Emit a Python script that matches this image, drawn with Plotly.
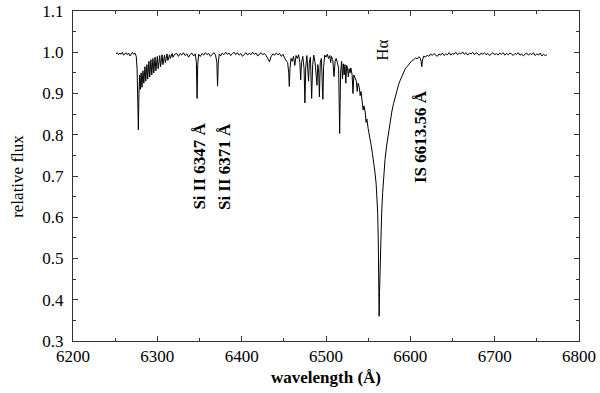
import plotly.graph_objects as go

# blue continuum + O2 telluric band
wl_blue = [6251, 6252.5, 6254, 6255.5, 6257, 6258.5, 6260, 6261.5, 6263, 6264.5, 6266, 6267.5,
           6269, 6270.5, 6272, 6273.5, 6275, 6276, 6276.8, 6277.5, 6278.2, 6279, 6279.8, 6280.8,
           6281.8, 6283, 6284, 6285.3, 6286.3, 6287.6, 6288.6, 6290, 6291, 6292.4, 6293.4, 6294.8,
           6295.8, 6297.3, 6298.3, 6300, 6301, 6302.8, 6303.8, 6305.6, 6306.6, 6308.5, 6309.5,
           6311.5, 6312.5, 6314.5, 6315.5, 6317.5, 6318.5, 6320.5, 6323]
flux_blue = [0.996, 0.999, 0.994, 0.998, 0.995, 1.000, 0.993, 0.997, 0.999, 0.994, 0.998, 0.991,
             0.997, 1.000, 0.995, 0.998, 0.990, 0.960, 0.880, 0.812, 0.900, 0.945, 0.910, 0.950,
             0.915, 0.955, 0.925, 0.965, 0.930, 0.970, 0.935, 0.978, 0.940, 0.982, 0.945, 0.985,
             0.950, 0.988, 0.955, 0.990, 0.960, 0.992, 0.965, 0.994, 0.970, 0.993, 0.975,
             0.996, 0.980, 0.994, 0.985, 0.997, 0.988, 0.995, 0.997]

# continuum with the two Si II lines
wl_si = [6325, 6327, 6329, 6331, 6333, 6335, 6337, 6339, 6341, 6343, 6345, 6346.3, 6347.1, 6347.9,
         6349, 6351, 6353, 6355, 6357, 6359, 6361, 6363, 6365, 6367, 6369, 6370.6, 6371.4, 6372.2,
         6373.5, 6375, 6377, 6379, 6381, 6383, 6385, 6387, 6389, 6391, 6393, 6395, 6397, 6399,
         6401, 6403, 6405, 6407, 6409, 6411, 6413, 6415, 6417, 6419, 6421, 6423, 6425, 6427,
         6429, 6431, 6433, 6435, 6437, 6439, 6441, 6443, 6445, 6447, 6449, 6451, 6453]
flux_si = [0.990, 0.997, 0.993, 0.999, 0.992, 0.996, 0.988, 0.995, 0.998, 0.991, 0.996, 0.975, 0.888, 0.970,
           0.995, 0.990, 0.997, 0.993, 0.999, 0.994, 0.997, 0.990, 0.996, 0.999, 0.993, 0.975, 0.918, 0.972,
           0.996, 0.991, 0.998, 0.994, 1.000, 0.995, 0.998, 0.992, 0.997, 1.000, 0.994, 0.999, 0.993, 0.997,
           0.990, 0.996, 0.999, 0.993, 0.998, 0.994, 1.000, 0.995, 0.998, 0.991, 0.996, 0.999, 0.994, 0.997,
           0.992, 0.985, 0.977, 0.990, 0.996, 0.993, 0.998, 0.994, 0.997, 0.990, 0.995, 0.985, 0.978]

# H2O telluric forest on the blue wing of H-alpha
wl_h2o = [6454.5, 6455.8, 6456.5, 6457.3, 6458.5, 6460, 6461.5, 6463, 6464.5, 6466, 6467.5, 6469,
          6470, 6471, 6472.5, 6474, 6475, 6476, 6477.3, 6478.5, 6479.3, 6480.2, 6481.5, 6483,
          6484.2, 6485.5, 6487, 6488.5, 6489.3, 6490.3, 6491.4, 6492.2, 6493.2, 6494.5, 6495.5,
          6496.3, 6497.2, 6498.5, 6500, 6501.5, 6503, 6504.5, 6505.5, 6506.5, 6508, 6509.5,
          6510.8, 6512, 6513.5, 6515, 6516.2, 6517.3, 6518.5, 6519.5, 6520.5, 6521.5, 6522.5,
          6523.5, 6524.5, 6525.5, 6526.5, 6527.5, 6528.5, 6529.5, 6531, 6532, 6533, 6534.5,
          6536, 6537, 6538, 6539.5, 6540.5, 6541.5, 6543, 6544, 6545, 6546.5, 6547.5, 6548.5,
          6550, 6551, 6552]
flux_h2o = [0.975, 0.950, 0.917, 0.960, 0.985, 0.978, 0.990, 0.968, 0.992, 0.985, 0.994, 0.975,
            0.933, 0.975, 0.990, 0.960, 0.877, 0.965, 0.992, 0.955, 0.930, 0.975, 0.988, 0.888,
            0.970, 0.993, 0.975, 0.940, 0.920, 0.970, 0.950, 0.892, 0.975, 0.985, 0.940,
            0.886, 0.965, 0.993, 0.988, 0.995, 0.985, 0.992, 0.975, 0.990, 0.982, 0.941,
            0.978, 0.985, 0.975, 0.960, 0.803, 0.950, 0.978, 0.935, 0.972, 0.945, 0.970,
            0.925, 0.968, 0.962, 0.940, 0.960, 0.950, 0.962, 0.945, 0.900, 0.945, 0.938,
            0.930, 0.905, 0.925, 0.915, 0.895, 0.905, 0.885, 0.860, 0.870, 0.855, 0.830, 0.838,
            0.815, 0.800, 0.795]

# H-alpha core and red wing (incl. interstellar line)
wl_ha = [6553.5, 6555, 6556.5, 6558, 6559.5, 6560.5, 6561.3, 6562, 6562.6, 6563.0, 6563.5, 6564.2,
         6565, 6566, 6567.2, 6568.5, 6570, 6572, 6574, 6576, 6578, 6580, 6582, 6584, 6586, 6588,
         6590, 6592, 6594, 6596, 6598, 6600, 6602, 6604, 6606, 6608, 6610, 6611.5, 6612.8, 6613.6,
         6614.4, 6616, 6618, 6620]
flux_ha = [0.775, 0.755, 0.735, 0.710, 0.680, 0.650, 0.610, 0.540, 0.450, 0.360, 0.420, 0.500,
           0.560, 0.610, 0.660, 0.700, 0.740, 0.775, 0.805, 0.830, 0.855, 0.875, 0.893, 0.908, 0.921, 0.932,
           0.943, 0.951, 0.960, 0.965, 0.971, 0.975, 0.980, 0.982, 0.986, 0.984, 0.989, 0.987, 0.978, 0.965,
           0.981, 0.991, 0.988, 0.993]

# red continuum
wl_red = [6622, 6624, 6626, 6628, 6630, 6632, 6634, 6636, 6638, 6640, 6642, 6644, 6646, 6648, 6650,
          6652, 6654, 6656, 6658, 6660, 6662, 6664, 6666, 6668, 6670, 6672, 6674, 6676, 6678, 6680,
          6682, 6684, 6686, 6688, 6690, 6692, 6694, 6696, 6698, 6700, 6702, 6704, 6706, 6708, 6710,
          6712, 6714, 6716, 6718, 6720, 6722, 6724, 6726, 6728, 6730, 6732, 6734, 6736, 6738, 6740,
          6742, 6744, 6746, 6748, 6750, 6752, 6754, 6756, 6758, 6760, 6762]
flux_red = [0.990, 0.996, 0.992, 0.997, 0.994, 0.990, 0.996, 0.993, 0.998, 0.992, 0.996, 0.994, 0.999, 0.993, 0.997,
            0.995, 1.000, 0.994, 0.998, 0.996, 1.001, 0.995, 0.999, 0.993, 0.998, 0.996, 1.000, 0.994, 0.999, 0.997,
            0.993, 0.998, 0.995, 0.999, 0.994, 0.997, 0.992, 0.996, 0.999, 0.994, 0.997, 0.993, 0.998, 0.995, 0.999,
            0.993, 0.997, 0.994, 0.998, 0.996, 0.992, 0.997, 0.995, 0.999, 0.993, 0.996, 0.991, 0.995, 0.998, 0.993,
            0.997, 0.994, 0.999, 0.992, 0.996, 0.993, 0.998, 0.991, 0.995, 0.992, 0.994]

labels = ["Si II 6347 Å", "Si II 6371 Å", "Hα", "IS 6613.56 Å"]
label_x = [6350, 6379, 6567, 6613]
label_y = [0.724, 0.724, 1.005, 0.795]

wavelength = wl_blue + wl_si + wl_h2o + wl_ha + wl_red
flux = flux_blue + flux_si + flux_h2o + flux_ha + flux_red

FONT = "Liberation Serif"

fig = go.Figure()
fig.add_trace(go.Scatter(x=wavelength, y=flux, mode="lines",
                         line=dict(color="black", width=1), showlegend=False))

for txt, lx, ly in zip(labels, label_x, label_y):
    fig.add_annotation(x=lx, y=ly, text=txt if txt == "Hα" else f"<b>{txt}</b>",
                       textangle=-90, showarrow=False,
                       font=dict(family=FONT, size=17, color="black"))

# axis titles placed as paper annotations for exact positioning
fig.add_annotation(x=0.5, y=-0.112, xref="paper", yref="paper", text="<b>wavelength (Å)</b>",
                   showarrow=False, xanchor="center", yanchor="middle",
                   font=dict(family=FONT, size=17, color="black"))
fig.add_annotation(x=-0.111, y=0.5, xref="paper", yref="paper", text="relative flux",
                   textangle=-90, showarrow=False, xanchor="center", yanchor="middle",
                   font=dict(family=FONT, size=17, color="black"))

axis_common = dict(showline=True, linecolor="#333", linewidth=1, mirror="ticks",
                   ticks="inside", ticklen=5, tickcolor="#333", showgrid=False, zeroline=False,
                   automargin=False, tickfont=dict(family=FONT, size=17, color="black"))

fig.update_xaxes(range=[6200, 6800], dtick=100,
                 minor=dict(ticks="inside", dtick=50, ticklen=3, tickcolor="#333"),
                 **axis_common)
fig.update_yaxes(range=[0.3, 1.1], dtick=0.1, tickformat=".1f", ticklabelstandoff=5,
                 minor=dict(ticks="inside", dtick=0.05, ticklen=3, tickcolor="#333"),
                 **axis_common)

fig.update_layout(width=600, height=393, margin=dict(l=73, r=21, t=11, b=52),
                  paper_bgcolor="white", plot_bgcolor="white")

fig.write_html("out.html", config={"displayModeBar": False},
               post_script="document.body.style.margin='0px';")
